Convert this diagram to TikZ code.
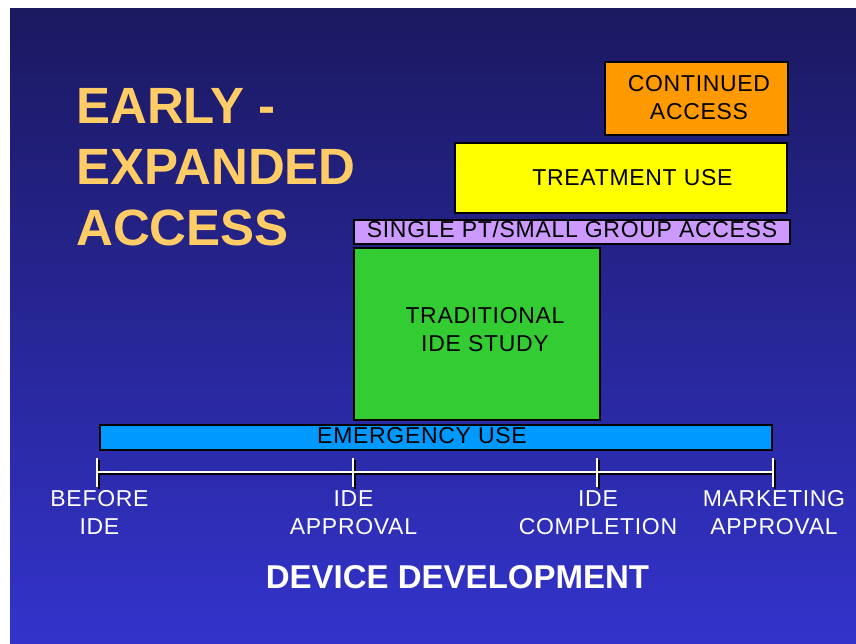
\documentclass[tikz,border=0pt]{standalone}
\usepackage{fontspec}
\setmainfont{Liberation Sans}
\newfontfamily\boxfont[LetterSpace=3]{Liberation Sans}
\usepackage{xcolor}
\usepackage{tikz}
\usetikzlibrary{positioning}

\definecolor{bgtop}{RGB}{27,25,96}
\definecolor{bgbot}{RGB}{51,51,204}
\definecolor{titlecol}{RGB}{255,204,102}
\definecolor{orangebox}{RGB}{255,153,0}
\definecolor{yellowbox}{RGB}{255,255,0}
\definecolor{lilacbox}{RGB}{204,153,255}
\definecolor{greenbox}{RGB}{51,204,51}
\definecolor{bluebox}{RGB}{0,153,255}

\begin{document}
\begin{tikzpicture}[x=1pt, y=-1pt]
\useasboundingbox (0,0) rectangle (856,644);
\shade[top color=bgtop, bottom color=bgbot] (10,9) rectangle (856,644);
% title
\tikzstyle{every node} = [inner sep=0pt, anchor=base west, text=titlecol, font=\bfseries\fontsize{51}{61}\selectfont]
\node (title1) at (76,124) {EARLY -};
\node (title2) at (76,185) {EXPANDED};
\node (title3) at (76,246) {ACCESS};
% bars
\tikzstyle{every node} = [draw=black, line width=2pt, inner sep=0pt]
\node[fill=orangebox, minimum width=183pt, minimum height=73pt] (cont) at (696.5,98.5) {};
\node[fill=yellowbox, minimum width=332pt, minimum height=70pt] (treat) at (621,178) {};
\node[fill=lilacbox, minimum width=436pt, minimum height=24pt] (single) at (572,232) {};
\node[fill=greenbox, minimum width=246pt, minimum height=172pt] (trad) at (477,334) {};
\node[fill=bluebox, minimum width=672pt, minimum height=25pt] (emerg) at (436,437.5) {};
\tikzstyle{every node} = [inner sep=0pt, align=center, font=\boxfont\fontsize{23}{28}\selectfont]
\node (contlbl) at (699,98) {CONTINUED\\ACCESS};
\node (treatlbl) at (632.5,177.5) {TREATMENT USE};
\node (singlelbl) at (572,229.5) {SINGLE PT/SMALL GROUP ACCESS};
\node (tradlbl) at (485,329.5) {TRADITIONAL\\IDE STUDY};
\node (emerglbl) at (422,435.5) {EMERGENCY USE};
% time line
\coordinate (t1) at (97,472);
\coordinate (t2) at (353,472);
\coordinate (t3) at (597,472);
\coordinate (t4) at (773,472);
\draw[black, line width=2pt] ([shift={(1.5,1.5)}]t1) -- ([shift={(1.5,1.5)}]t4);
\draw[black, line width=2pt] ([shift={(1.5,-12.5)}]t1) -- ([shift={(1.5,16.5)}]t1);
\draw[black, line width=2pt] ([shift={(1.5,-12.5)}]t2) -- ([shift={(1.5,16.5)}]t2);
\draw[black, line width=2pt] ([shift={(1.5,-12.5)}]t3) -- ([shift={(1.5,16.5)}]t3);
\draw[black, line width=2pt] ([shift={(1.5,-12.5)}]t4) -- ([shift={(1.5,16.5)}]t4);
\draw[white, line width=2pt] (t1) -- (t4);
\draw[white, line width=2pt] ([yshift=14pt]t1) -- ([yshift=-15pt]t1);
\draw[white, line width=2pt] ([yshift=14pt]t2) -- ([yshift=-15pt]t2);
\draw[white, line width=2pt] ([yshift=14pt]t3) -- ([yshift=-15pt]t3);
\draw[white, line width=2pt] ([yshift=14pt]t4) -- ([yshift=-15pt]t4);
\tikzstyle{every node} = [inner sep=0pt, anchor=north, align=center, text=white, font=\boxfont\fontsize{23}{28}\selectfont]
\node (before) at (99.5,490) {BEFORE\\IDE};
\node (approval) at (353.5,490) {IDE\\APPROVAL};
\node (completion) at (598,490) {IDE\\COMPLETION};
\node (marketing) at (774,490) {MARKETING\\APPROVAL};
\node[anchor=base, font=\bfseries\fontsize{33}{40}\selectfont] (device) at (457.5,588) {DEVICE DEVELOPMENT};
\end{tikzpicture}
\end{document}
